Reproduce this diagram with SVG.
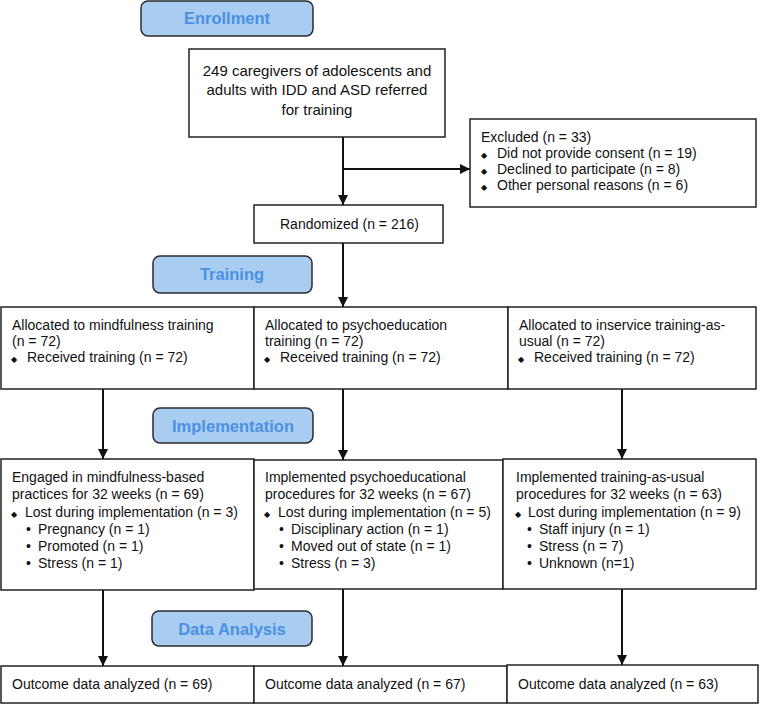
<svg xmlns="http://www.w3.org/2000/svg" width="760" height="705" viewBox="0 0 760 705">
<style>
.box{fill:#fff;stroke:#222;stroke-width:1.5}
.pill{fill:#a9cdf1;stroke:#2b2b2b;stroke-width:1.5}
.pt{font-family:"Liberation Sans",Arial,sans-serif;font-weight:bold;font-size:16.5px;fill:#4a90e2;text-anchor:middle}
.t{font-family:"Liberation Sans",Arial,sans-serif;font-size:14px;fill:#111}
.tc{font-family:"Liberation Sans",Arial,sans-serif;font-size:15px;fill:#111;text-anchor:middle}
.d{font-family:"DejaVu Sans",sans-serif;font-size:8px}
.c{stroke:#111;stroke-width:2;fill:none}
</style>
<defs>
<marker id="ah" viewBox="0 0 10 10" refX="10" refY="5" markerWidth="5" markerHeight="5" orient="auto" markerUnits="strokeWidth">
<path d="M0,0 L10,5 L0,10 z" fill="#111"/>
</marker>
</defs>

<g id="connectors">
<line class="c" x1="343" y1="137" x2="343" y2="205" marker-end="url(#ah)"/>
<line class="c" x1="343" y1="169" x2="470" y2="169" marker-end="url(#ah)"/>
<line class="c" x1="343" y1="243" x2="343" y2="307" marker-end="url(#ah)"/>
<line class="c" x1="103" y1="389" x2="103" y2="459" marker-end="url(#ah)"/>
<line class="c" x1="343" y1="389" x2="343" y2="460" marker-end="url(#ah)"/>
<line class="c" x1="622" y1="389" x2="622" y2="459" marker-end="url(#ah)"/>
<line class="c" x1="103" y1="590" x2="103" y2="666" marker-end="url(#ah)"/>
<line class="c" x1="343" y1="589" x2="343" y2="666" marker-end="url(#ah)"/>
<line class="c" x1="622" y1="589" x2="622" y2="665" marker-end="url(#ah)"/>
</g>

<g id="enrollment">
<rect class="pill" x="141" y="1" width="172" height="35" rx="7"/>
<text class="pt" x="227" y="24">Enrollment</text>
</g>

<g id="referred">
<rect class="box" x="189" y="49" width="256" height="88"/>
<text class="tc" x="317" y="76">249 caregivers of adolescents and</text>
<text class="tc" x="317" y="95">adults with IDD and ASD referred</text>
<text class="tc" x="317" y="115">for training</text>
</g>

<g id="excluded">
<rect class="box" x="470" y="119" width="286" height="88"/>
<text class="t" x="481" y="142">Excluded (n = 33)</text>
<text class="t" x="481" y="158"><tspan class="d">◆</tspan><tspan x="497">Did not provide consent (n = 19)</tspan></text>
<text class="t" x="481" y="174"><tspan class="d">◆</tspan><tspan x="497">Declined to participate (n = 8)</tspan></text>
<text class="t" x="481" y="190"><tspan class="d">◆</tspan><tspan x="497">Other personal reasons (n = 6)</tspan></text>
</g>

<g id="randomized">
<rect class="box" x="254" y="205" width="189" height="38"/>
<text class="t" x="280" y="229">Randomized (n = 216)</text>
</g>

<g id="training">
<rect class="pill" x="153" y="256" width="159" height="37" rx="7"/>
<text class="pt" x="232" y="280">Training</text>
</g>

<g id="alloc-mind">
<rect class="box" x="1" y="307" width="253" height="82"/>
<text class="t" x="12" y="330">Allocated to mindfulness training</text>
<text class="t" x="12" y="346">(n = 72)</text>
<text class="t" x="11" y="362"><tspan class="d">◆</tspan><tspan x="27">Received training (n = 72)</tspan></text>
</g>

<g id="alloc-psych">
<rect class="box" x="254" y="307" width="254" height="82"/>
<text class="t" x="265" y="330">Allocated to psychoeducation</text>
<text class="t" x="265" y="346">training (n = 72)</text>
<text class="t" x="264" y="362"><tspan class="d">◆</tspan><tspan x="280">Received training (n = 72)</tspan></text>
</g>

<g id="alloc-tau">
<rect class="box" x="508" y="307" width="248" height="82"/>
<text class="t" x="519" y="330">Allocated to inservice training-as-</text>
<text class="t" x="519" y="346">usual (n = 72)</text>
<text class="t" x="518" y="362"><tspan class="d">◆</tspan><tspan x="534">Received training (n = 72)</tspan></text>
</g>

<g id="implementation">
<rect class="pill" x="153" y="408" width="160" height="35" rx="7"/>
<text class="pt" x="233" y="432">Implementation</text>
</g>

<g id="impl-mind">
<rect class="box" x="1" y="459" width="253" height="131"/>
<text class="t" x="12" y="482">Engaged in mindfulness-based</text>
<text class="t" x="12" y="499">practices for 32 weeks (n = 69)</text>
<text class="t" x="11" y="517"><tspan class="d" font-size="7px">◆</tspan><tspan x="25">Lost during implementation (n = 3)</tspan></text>
<text class="t" x="26" y="534">•<tspan x="38">Pregnancy (n = 1)</tspan></text>
<text class="t" x="26" y="551">•<tspan x="38">Promoted (n = 1)</tspan></text>
<text class="t" x="26" y="568">•<tspan x="38">Stress (n = 1)</tspan></text>
</g>

<g id="impl-psych">
<rect class="box" x="254" y="460" width="249" height="129"/>
<text class="t" x="265" y="482">Implemented psychoeducational</text>
<text class="t" x="265" y="499">procedures for 32 weeks (n = 67)</text>
<text class="t" x="264" y="517"><tspan class="d" font-size="7px">◆</tspan><tspan x="278">Lost during implementation (n = 5)</tspan></text>
<text class="t" x="279" y="534">•<tspan x="291">Disciplinary action (n = 1)</tspan></text>
<text class="t" x="279" y="551">•<tspan x="291">Moved out of state (n = 1)</tspan></text>
<text class="t" x="279" y="568">•<tspan x="291">Stress (n = 3)</tspan></text>
</g>

<g id="impl-tau">
<rect class="box" x="503" y="459" width="253" height="130"/>
<text class="t" x="516" y="482">Implemented training-as-usual</text>
<text class="t" x="516" y="499">procedures for 32 weeks (n = 63)</text>
<text class="t" x="515" y="517"><tspan class="d" font-size="7px">◆</tspan><tspan x="528">Lost during implementation (n = 9)</tspan></text>
<text class="t" x="527" y="534">•<tspan x="539">Staff injury (n = 1)</tspan></text>
<text class="t" x="527" y="551">•<tspan x="539">Stress (n = 7)</tspan></text>
<text class="t" x="527" y="568">•<tspan x="539">Unknown (n=1)</tspan></text>
</g>

<g id="data-analysis">
<rect class="pill" x="152" y="611" width="160" height="35" rx="7"/>
<text class="pt" x="232" y="635">Data Analysis</text>
</g>

<g id="out-mind">
<rect class="box" x="1" y="666" width="253" height="37"/>
<text class="t" x="12" y="689">Outcome data analyzed (n = 69)</text>
</g>

<g id="out-psych">
<rect class="box" x="254" y="666" width="253" height="37"/>
<text class="t" x="265" y="689">Outcome data analyzed (n = 67)</text>
</g>

<g id="out-tau">
<rect class="box" x="507" y="665" width="251" height="38"/>
<text class="t" x="518" y="689">Outcome data analyzed (n = 63)</text>
</g>
</svg>
